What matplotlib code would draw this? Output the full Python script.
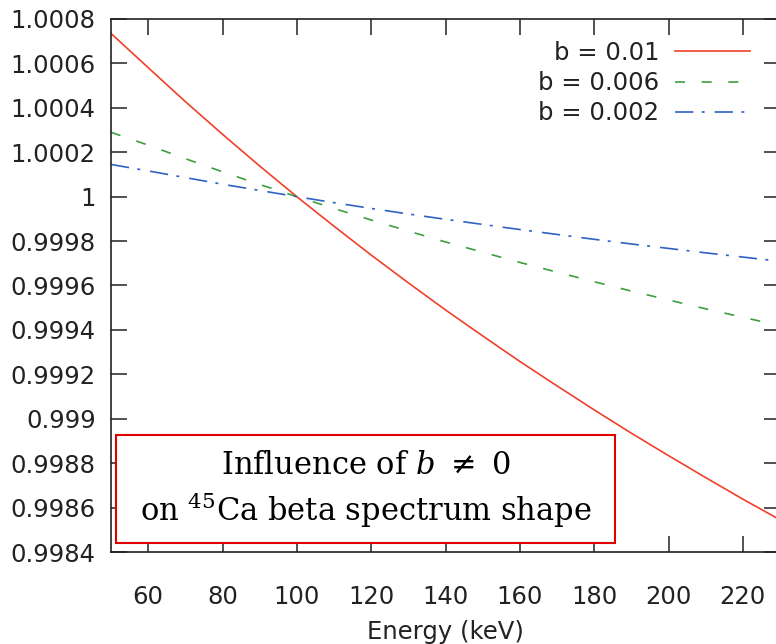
import matplotlib
matplotlib.use("Agg")
import matplotlib.pyplot as plt
from matplotlib.patches import Rectangle

# ratio of the 45Ca beta spectrum with a Fierz term to the standard shape
energy = [50, 60, 70, 80, 90, 100, 110, 120, 130, 140,
          150, 160, 170, 180, 190, 200, 210, 220, 230]

ratio_b010 = [1.000735, 1.000581, 1.000428, 1.000281, 1.000138, 1.000000,
              0.999867, 0.999737, 0.999612, 0.999490, 0.999373, 0.999258,
              0.999148, 0.999040, 0.998935, 0.998834, 0.998735, 0.998638,
              0.998545]
ratio_b006 = [1.000290, 1.000232, 1.000171, 1.000112, 1.000055, 1.000000,
              0.999947, 0.999895, 0.999845, 0.999796, 0.999750, 0.999704,
              0.999660, 0.999617, 0.999575, 0.999535, 0.999495, 0.999457,
              0.999419]
ratio_b002 = [1.000145, 1.000116, 1.000086, 1.000056, 1.000028, 1.000000,
              0.999973, 0.999947, 0.999922, 0.999898, 0.999875, 0.999852,
              0.999830, 0.999808, 0.999787, 0.999767, 0.999747, 0.999728,
              0.999709]

labels = ["b = 0.01", "b = 0.006", "b = 0.002"]
xticks = [60, 80, 100, 120, 140, 160, 180, 200, 220]
yticks = [0.9984, 0.9986, 0.9988, 0.999, 0.9992, 0.9994, 0.9996, 0.9998,
          1.0, 1.0002, 1.0004, 1.0006, 1.0008]
ytick_labels = ["0.9984", "0.9986", "0.9988", "0.999", "0.9992", "0.9994",
                "0.9996", "0.9998", "1", "1.0002", "1.0004", "1.0006", "1.0008"]

plt.rcParams["font.family"] = ["DejaVu Sans"]
plt.rcParams["mathtext.fontset"] = "dejavuserif"

fs = 17.5
fig = plt.figure(figsize=(7.76, 6.44), dpi=100)
ax = fig.add_axes([111 / 776, 92 / 644, 669 / 776, 533 / 644])

ax.plot(energy, ratio_b010, color="#f0402a", lw=1.2, label=labels[0])
ax.plot(energy, ratio_b006, color="#3c9f3c", lw=1.2, dashes=(6, 10),
        label=labels[1])
ax.plot(energy, ratio_b002, color="#2f62c2", lw=1.2, dashes=(11, 5, 1.8, 6),
        label=labels[2])

ax.set_xlim(50, 230)
ax.set_ylim(0.9984, 1.0008)
ax.set_xticks(xticks)
ax.set_yticks(yticks)
ax.set_yticklabels(ytick_labels)

for s in ax.spines.values():
    s.set_linewidth(1.2)
    s.set_color("#222222")
ax.tick_params(direction="in", length=11.5, width=1.1, colors="#222222",
               labelsize=fs, top=True, right=True)
ax.tick_params(axis="x", pad=24)
ax.tick_params(axis="y", pad=11)
ax.set_xlabel("Energy (keV)", fontsize=fs, color="#222222", labelpad=8)

leg = ax.legend(loc="upper right", bbox_to_anchor=(0.955, 0.959),
                frameon=False, markerfirst=False, fontsize=fs,
                handlelength=3.1, handletextpad=0.62, labelspacing=0.26,
                borderpad=0, borderaxespad=0)
for t in leg.get_texts():
    t.set_color("#222222")

# caption box in the lower left corner
box = Rectangle((0.0075, 0.017), 0.746, 0.203, transform=ax.transAxes,
                facecolor="white", edgecolor="#e00000", lw=1.5, zorder=5)
ax.add_patch(box)
ax.text(0.381, 0.116,
        "Influence of $b$ $\\neq$ 0\non $^{45}$Ca beta spectrum shape",
        transform=ax.transAxes, ha="center", va="center", fontsize=22,
        family="DejaVu Serif", linespacing=1.3, zorder=6)

fig.savefig("out.png", dpi=100)
